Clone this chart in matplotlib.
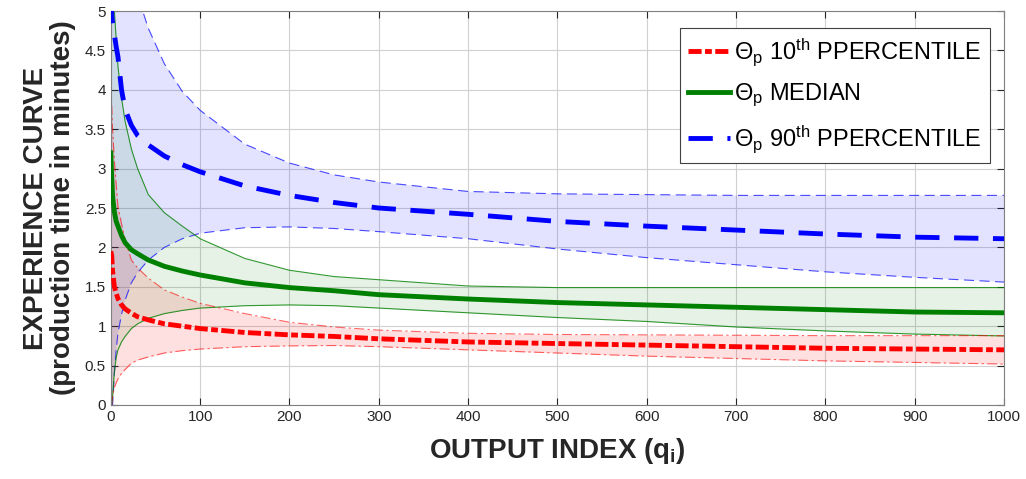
import matplotlib
matplotlib.use('Agg')
import matplotlib.pyplot as plt
from matplotlib import font_manager
from matplotlib.lines import Line2D
import numpy as np

plt.rcParams['font.family'] = ['Liberation Sans', 'DejaVu Sans']
plt.rcParams['mathtext.fontset'] = 'custom'
plt.rcParams['mathtext.rm'] = 'Liberation Sans'
plt.rcParams['mathtext.it'] = 'Liberation Sans'

# axis titles in the original use a condensed bold face
names = {f.name for f in font_manager.fontManager.ttflist}
if 'Liberation Sans Narrow' in names:
    LABEL_FONT, LABEL_SIZE = ['Liberation Sans Narrow', 'DejaVu Sans'], 24
else:
    LABEL_FONT, LABEL_SIZE = ['Liberation Sans', 'DejaVu Sans'], 20

# output index q_i (sample points)
q = [0, 1, 2, 4, 6, 8, 12, 16, 23, 30, 42, 60, 80, 100, 150, 200, 250,
     300, 400, 500, 600, 700, 800, 900, 1000]

# 10th percentile: central estimate and band
p10_mid = [1.95, 1.90, 1.70, 1.50, 1.42, 1.35, 1.27, 1.22, 1.165, 1.12, 1.08, 1.03,
           1.00, 0.97, 0.92, 0.89, 0.87, 0.84, 0.80, 0.78, 0.76, 0.74, 0.72, 0.71, 0.70]
p10_hi = [3.80, 3.80, 3.50, 3.10, 2.80, 2.52, 2.30, 2.10, 1.84, 1.74, 1.61, 1.46,
          1.37, 1.29, 1.16, 1.05, 0.99, 0.95, 0.91, 0.895, 0.89, 0.885, 0.88, 0.88, 0.88]
p10_lo = [0.0, 0.0, 0.12, 0.22, 0.28, 0.33, 0.40, 0.45, 0.53, 0.57, 0.61, 0.66,
          0.69, 0.71, 0.74, 0.75, 0.755, 0.74, 0.70, 0.66, 0.62, 0.59, 0.56, 0.54, 0.52]

# median
p50_mid = [3.20, 2.90, 2.65, 2.45, 2.33, 2.27, 2.15, 2.06, 1.97, 1.92, 1.84, 1.76,
           1.70, 1.65, 1.55, 1.49, 1.45, 1.40, 1.345, 1.30, 1.27, 1.24, 1.21, 1.18, 1.17]
p50_hi = [5.6, 5.5, 5.3, 5.00, 4.65, 4.30, 3.90, 3.60, 3.25, 3.00, 2.67, 2.44,
          2.27, 2.11, 1.86, 1.71, 1.63, 1.59, 1.51, 1.49, 1.49, 1.49, 1.49, 1.49, 1.49]
p50_lo = [0.0, 0.0, 0.10, 0.42, 0.60, 0.70, 0.80, 0.87, 0.97, 1.03, 1.10, 1.16,
          1.20, 1.23, 1.26, 1.27, 1.26, 1.23, 1.17, 1.11, 1.06, 0.99, 0.94, 0.90, 0.876]

# 90th percentile
p90_mid = [5.3, 4.95, 4.85, 4.70, 4.55, 4.42, 4.00, 3.75, 3.55, 3.42, 3.30, 3.16,
           3.05, 2.96, 2.78, 2.66, 2.57, 2.50, 2.42, 2.33, 2.27, 2.22, 2.17, 2.13, 2.11]
p90_hi = [6.5, 6.5, 6.4, 6.3, 6.2, 6.0, 5.8, 5.6, 5.4, 5.2, 4.78, 4.33,
          3.98, 3.74, 3.31, 3.07, 2.92, 2.83, 2.71, 2.68, 2.67, 2.66, 2.66, 2.66, 2.66]
p90_lo = [0.0, 0.0, 0.0, 0.40, 0.70, 0.91, 1.15, 1.33, 1.55, 1.68, 1.84, 2.00,
          2.11, 2.18, 2.25, 2.26, 2.24, 2.20, 2.11, 1.98, 1.87, 1.78, 1.69, 1.62, 1.56]

labels = [r'$\Theta_p$ 10$^{th}$ PPERCENTILE',
          r'$\Theta_p$ MEDIAN',
          r'$\Theta_p$ 90$^{th}$ PPERCENTILE']

RED, GREEN, BLUE = '#ff0000', '#008000', '#0000ff'
red_ls = (0, (2.7, 0.7, 1.4, 0.7))
blue_ls = (0, (5, 3))

fig = plt.figure(figsize=(10.26, 4.79), dpi=100)
ax = fig.add_axes([0.108, 0.1545, 0.8706, 0.8225])

# bands
ax.fill_between(q, p90_lo, p90_hi, color=BLUE, alpha=0.11, lw=0, zorder=1)
ax.fill_between(q, p50_lo, p50_hi, color=GREEN, alpha=0.10, lw=0, zorder=1)
ax.fill_between(q, p10_lo, p10_hi, color=RED, alpha=0.12, lw=0, zorder=1)

for y in (p90_lo, p90_hi):
    ax.plot(q, y, color=BLUE, lw=0.8, alpha=0.7, ls=(0, (9, 5)), zorder=2)
for y in (p50_lo, p50_hi):
    ax.plot(q, y, color=GREEN, lw=0.8, alpha=0.8, ls='-', zorder=2)
for y in (p10_lo, p10_hi):
    ax.plot(q, y, color=RED, lw=0.8, alpha=0.6, ls=(0, (9, 3, 2, 3)), zorder=2)

# central curves
ax.plot(q, p10_mid, color=RED, lw=3.5, ls=red_ls, zorder=3)
ax.plot(q, p50_mid, color=GREEN, lw=3.5, ls='-', zorder=3)
ax.plot(q, p90_mid, color=BLUE, lw=3.5, ls=blue_ls, zorder=3)

ax.set_xlim(0, 1000)
ax.set_ylim(0, 5)
ax.set_xticks(np.arange(0, 1001, 100))
ax.set_yticks(np.arange(0, 5.01, 0.5))
ax.set_yticklabels(['0', '0.5', '1', '1.5', '2', '2.5', '3', '3.5', '4', '4.5', '5'])
ax.tick_params(direction='in', length=5, labelsize=11, colors='#262626',
               top=True, right=True, width=0.8)
ax.grid(True, color='#d0d0d0', lw=0.8, zorder=0)
ax.set_axisbelow(True)
for s in ax.spines.values():
    s.set_color('#808080')
    s.set_linewidth(0.8)

ax.set_xlabel(r'OUTPUT INDEX (q$_\mathregular{i}$)', fontsize=LABEL_SIZE,
              fontweight='bold', family=LABEL_FONT, color='#262626', labelpad=9)
ax.set_ylabel('EXPERIENCE CURVE\n(production time in minutes)', fontsize=LABEL_SIZE,
              fontweight='bold', family=LABEL_FONT, color='#262626', labelpad=6,
              linespacing=1.05)

handles = [Line2D([], [], color=RED, lw=3.5, ls=red_ls),
           Line2D([], [], color=GREEN, lw=3.5, ls='-'),
           Line2D([], [], color=BLUE, lw=3.5, ls=blue_ls)]
leg = ax.legend(handles, labels, loc='upper right', fontsize=17, handlelength=1.8,
                handletextpad=0.15, borderpad=0.35, labelspacing=0.6,
                borderaxespad=0, fancybox=False, framealpha=1, edgecolor='#404040',
                bbox_to_anchor=(0.984, 0.957))
leg.get_frame().set_linewidth(0.8)

fig.savefig('out.png', dpi=100)
